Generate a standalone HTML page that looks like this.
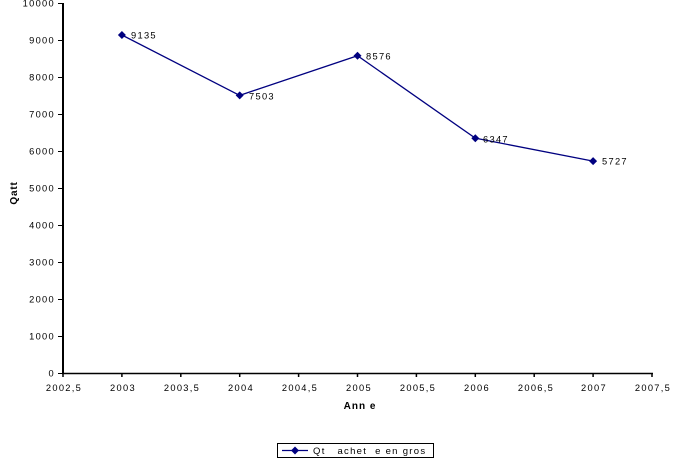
<!DOCTYPE html>
<html><head><meta charset="utf-8"><style>
html,body{margin:0;padding:0;background:#fff;}
svg{display:block;}
text{font-family:"Liberation Sans",Arial,sans-serif;fill:#000;}
.t{font-size:9.3px;letter-spacing:1.3px;}
</style></head><body>
<svg width="673" height="468" viewBox="0 0 673 468" xmlns="http://www.w3.org/2000/svg">
<rect width="673" height="468" fill="#fff"/>
<!-- y axis -->
<line x1="63" y1="3" x2="63" y2="374" stroke="#000" stroke-width="2"/>
<!-- x axis -->
<line x1="62" y1="373.5" x2="653" y2="373.5" stroke="#000" stroke-width="1.5"/>
<!-- y ticks -->
<g stroke="#000" stroke-width="1">
<line x1="58" y1="3.5" x2="63" y2="3.5"/>
<line x1="58" y1="40.5" x2="63" y2="40.5"/>
<line x1="58" y1="77.5" x2="63" y2="77.5"/>
<line x1="58" y1="114.5" x2="63" y2="114.5"/>
<line x1="58" y1="151.5" x2="63" y2="151.5"/>
<line x1="58" y1="188.5" x2="63" y2="188.5"/>
<line x1="58" y1="225.5" x2="63" y2="225.5"/>
<line x1="58" y1="262.5" x2="63" y2="262.5"/>
<line x1="58" y1="299.5" x2="63" y2="299.5"/>
<line x1="58" y1="336.5" x2="63" y2="336.5"/>
<line x1="58" y1="373.5" x2="63" y2="373.5"/>
</g>
<g stroke="#000" stroke-width="1.5">
<line x1="63" y1="373" x2="63" y2="377"/>
<line x1="121.9" y1="373" x2="121.9" y2="377"/>
<line x1="180.8" y1="373" x2="180.8" y2="377"/>
<line x1="239.7" y1="373" x2="239.7" y2="377"/>
<line x1="298.6" y1="373" x2="298.6" y2="377"/>
<line x1="357.5" y1="373" x2="357.5" y2="377"/>
<line x1="416.4" y1="373" x2="416.4" y2="377"/>
<line x1="475.3" y1="373" x2="475.3" y2="377"/>
<line x1="534.2" y1="373" x2="534.2" y2="377"/>
<line x1="593.1" y1="373" x2="593.1" y2="377"/>
<line x1="652" y1="373" x2="652" y2="377"/>
</g>
<!-- y labels -->
<g class="t" text-anchor="end">
<text x="55" y="6.5">10000</text>
<text x="55" y="43.5">9000</text>
<text x="55" y="80.5">8000</text>
<text x="55" y="117.5">7000</text>
<text x="55" y="154.5">6000</text>
<text x="55" y="191.5">5000</text>
<text x="55" y="228.5">4000</text>
<text x="55" y="265.5">3000</text>
<text x="55" y="302.5">2000</text>
<text x="55" y="339.5">1000</text>
<text x="55" y="376.5">0</text>
</g>
<!-- x labels -->
<g class="t" text-anchor="middle">
<text x="64" y="391">2002,5</text>
<text x="123" y="391">2003</text>
<text x="182" y="391">2003,5</text>
<text x="241" y="391">2004</text>
<text x="300" y="391">2004,5</text>
<text x="359" y="391">2005</text>
<text x="418" y="391">2005,5</text>
<text x="477" y="391">2006</text>
<text x="536" y="391">2006,5</text>
<text x="594" y="391">2007</text>
<text x="653" y="391">2007,5</text>
</g>
<!-- axis titles -->
<text x="360" y="409" text-anchor="middle" style="font-size:10px;font-weight:bold;letter-spacing:1px">Ann e</text>
<text transform="translate(17,193) rotate(-90)" text-anchor="middle" style="font-size:10px;font-weight:bold;letter-spacing:0.8px">Qatt</text>
<!-- series -->
<polyline points="121.9,35 239.7,95.4 357.5,55.7 475.3,138.2 593.1,161.1" fill="none" stroke="#000080" stroke-width="1.3"/>
<g fill="#000080">
<polygon points="121.9,31 125.9,35 121.9,39 117.9,35"/>
<polygon points="239.7,91.4 243.7,95.4 239.7,99.4 235.7,95.4"/>
<polygon points="357.5,51.7 361.5,55.7 357.5,59.7 353.5,55.7"/>
<polygon points="475.3,134.2 479.3,138.2 475.3,142.2 471.3,138.2"/>
<polygon points="593.1,157.1 597.1,161.1 593.1,165.1 589.1,161.1"/>
</g>
<g class="t">
<text x="131" y="38.5">9135</text>
<text x="249" y="99.5">7503</text>
<text x="366" y="59.5">8576</text>
<text x="483" y="142.5">6347</text>
<text x="602" y="164.5">5727</text>
</g>
<!-- legend -->
<rect x="277.5" y="443.5" width="156" height="14" fill="#fff" stroke="#000" stroke-width="1"/>
<line x1="282" y1="450.5" x2="308" y2="450.5" stroke="#000080" stroke-width="1.3"/>
<polygon points="295,446.5 299,450.5 295,454.5 291,450.5" fill="#000080"/>
<text x="313" y="454" style="font-size:9.5px;letter-spacing:1.3px">Qt&#160;&#160;&#160;achet&#160;&#160;e en gros</text>
</svg>
</body></html>
